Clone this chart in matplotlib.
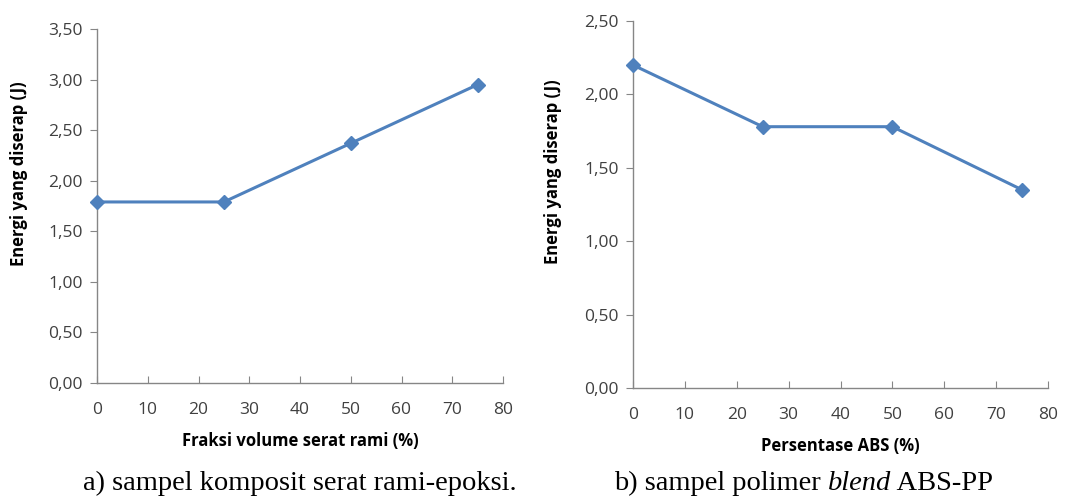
import matplotlib.pyplot as plt
from matplotlib.ticker import FuncFormatter

# data
x_rami = [0, 25, 50, 75]
energi_rami = [1.79, 1.79, 2.37, 2.95]
x_abs = [0, 25, 50, 75]
energi_abs = [2.20, 1.78, 1.78, 1.35]
x_ticks = [0, 10, 20, 30, 40, 50, 60, 70, 80]
y_ticks_a = [0, 0.5, 1.0, 1.5, 2.0, 2.5, 3.0, 3.5]
y_ticks_b = [0, 0.5, 1.0, 1.5, 2.0, 2.5]

W, H = 1070, 497
line_color = '#4F81BD'
axis_color = '#868686'
text_color = '#404040'
sans = ['Open Sans', 'DejaVu Sans']
serif = ['Liberation Serif', 'DejaVu Serif']

fig = plt.figure(figsize=(W / 100, H / 100), dpi=100)
fig.set_facecolor('white')


def px_axes(x0, y_top, x1, y_bot):
    return fig.add_axes([x0 / W, 1 - y_bot / H, (x1 - x0) / W, (y_bot - y_top) / H])


def style(ax, xs, ys, yticks, xlabel):
    ax.plot(xs, ys, color=line_color, linewidth=2.2, marker='D', markersize=7.5,
            clip_on=False, zorder=3)
    ax.set_xlim(0, 80)
    ax.set_ylim(0, yticks[-1])
    ax.set_xticks(x_ticks)
    ax.set_yticks(yticks)
    ax.yaxis.set_major_formatter(FuncFormatter(lambda v, p: f'{v:.2f}'.replace('.', ',')))
    for s in ['top', 'right']:
        ax.spines[s].set_visible(False)
    for s in ['left', 'bottom']:
        ax.spines[s].set_color(axis_color)
        ax.spines[s].set_linewidth(1)
    ax.tick_params(axis='x', direction='in', length=5, color=axis_color, pad=14,
                   labelsize=12.5, labelcolor=text_color)
    ax.tick_params(axis='y', direction='out', length=5, color=axis_color, pad=5,
                   labelsize=12.5, labelcolor=text_color)
    for lab in ax.get_xticklabels() + ax.get_yticklabels():
        lab.set_family(sans)
    ax.set_xlabel(xlabel, fontsize=12, fontweight='bold', family=sans, color='black', labelpad=10)
    ax.set_ylabel('Energi yang diserap (J)', fontsize=12, fontweight='bold', family=sans,
                  color='black')
    # label sits a bit above the middle in the original
    ax.yaxis.set_label_coords(-0.17, 0.59)


ax1 = px_axes(97, 29, 503, 383)
style(ax1, x_rami, energi_rami, y_ticks_a, 'Fraksi volume serat rami (%)')

ax2 = px_axes(633, 21, 1048, 388)
style(ax2, x_abs, energi_abs, y_ticks_b, 'Persentase ABS (%)')

# captions
fig.text(300 / W, 1 - 483 / H, 'a) sampel komposit serat rami-epoksi.', ha='center', va='center',
         fontsize=20.5, family=serif, color='black')

fig.canvas.draw()
r = fig.canvas.get_renderer()
parts = [('b) sampel polimer ', 'normal'), ('blend', 'italic'), (' ABS-PP', 'normal')]
xpos = 614
for txt, st in parts:
    t = fig.text(xpos / W, 1 - 483 / H, txt, ha='left', va='center', fontsize=20.5,
                 family=serif, style=st, color='black')
    bb = t.get_window_extent(renderer=r)
    xpos += bb.width

fig.savefig('out.png', dpi=100, facecolor='white')
